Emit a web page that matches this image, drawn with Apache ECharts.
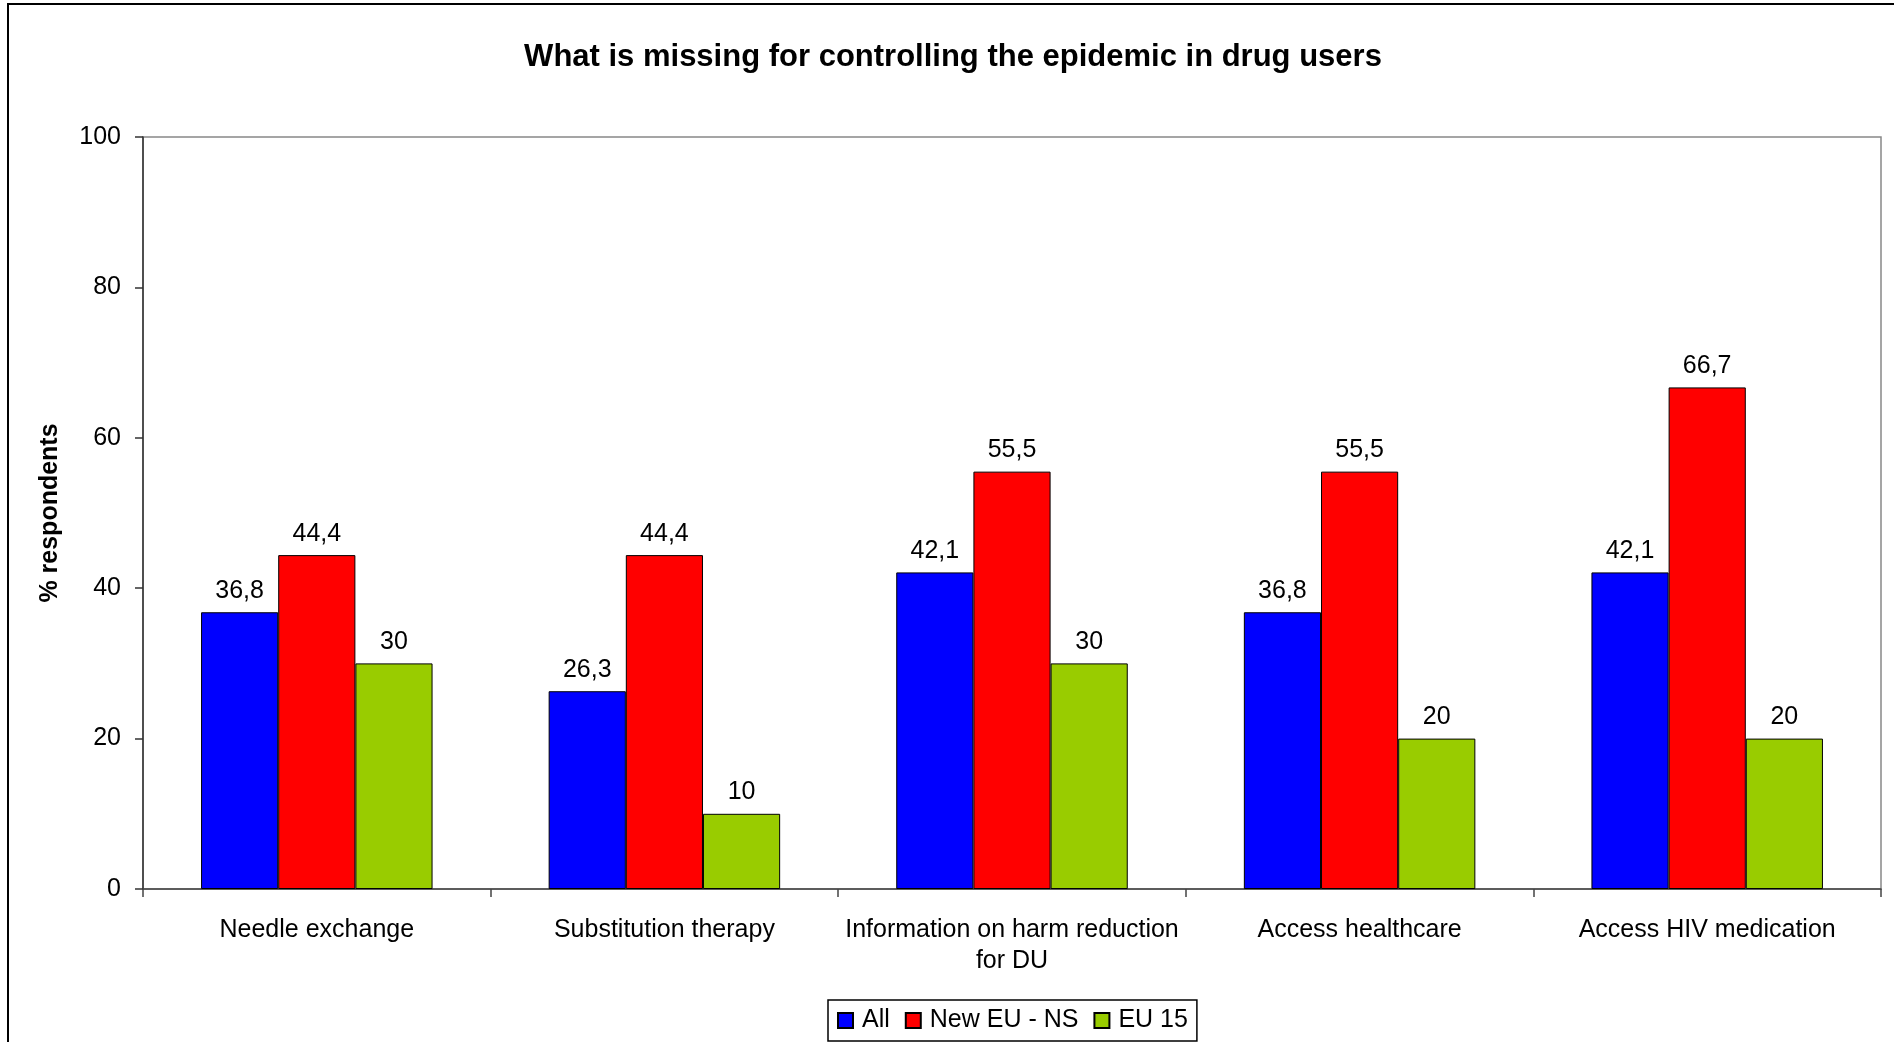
<!DOCTYPE html>
<html>
<head>
<meta charset="utf-8">
<script src="https://cdn.jsdelivr.net/npm/echarts@6/dist/echarts.min.js"></script>
<style>
  html, body { margin: 0; padding: 0; background: #fff; }
  #chart { width: 1894px; height: 1042px; }
</style>
</head>
<body>
<div id="chart"></div>
<script>
var categories = ['Needle exchange', 'Substitution therapy', 'Information on harm reduction\nfor DU', 'Access healthcare', 'Access HIV medication'];
var seriesNames = ['All', 'New EU - NS', 'EU 15'];
var allValues = [36.8, 26.3, 42.1, 36.8, 42.1];
var newEuValues = [44.4, 44.4, 55.5, 55.5, 66.7];
var eu15Values = [30, 10, 30, 20, 20];
var yTicks = [0, 20, 40, 60, 80, 100];

var FONT = '"Liberation Sans", Arial, sans-serif';
var colors = ['#0000FF', '#FF0000', '#99CC00'];
var dataSets = [allValues, newEuValues, eu15Values];

var chart = echarts.init(document.getElementById('chart'), null, { renderer: 'canvas' });

var series = seriesNames.map(function (name, i) {
  return {
    name: name,
    type: 'bar',
    data: dataSets[i],
    barGap: '0%',
    barCategoryGap: '33.4%',
    itemStyle: { color: colors[i], borderColor: '#000', borderWidth: 1 },
    label: {
      show: true,
      position: 'top',
      distance: 9,
      color: '#000',
      fontSize: 25,
      fontFamily: FONT,
      formatter: function (p) { return String(p.value).replace('.', ','); }
    },
    emphasis: { disabled: true }
  };
});

chart.setOption({
  animation: false,
  backgroundColor: '#fff',
  textStyle: { fontFamily: FONT },
  title: {
    text: 'What is missing for controlling the epidemic in drug users',
    left: 948,
    textAlign: 'center',
    top: 37,
    textStyle: { fontSize: 31, fontWeight: 'bold', color: '#000', fontFamily: FONT }
  },
  graphic: [{
    type: 'rect',
    z: -10,
    shape: { x: 8, y: 4, width: 2000, height: 2000 },
    style: { fill: 'none', stroke: '#000', lineWidth: 2 }
  }],
  legend: {
    data: seriesNames,
    left: 828,
    top: 1000,
    orient: 'horizontal',
    itemWidth: 15,
    itemHeight: 15,
    itemGap: 15,
    padding: [8, 9, 8, 9],
    borderColor: '#000',
    borderWidth: 1.5,
    backgroundColor: '#fff',
    icon: 'rect',
    textStyle: { fontSize: 25, color: '#000', fontFamily: FONT, padding: [0, 0, 0, 4] }
  },
  grid: {
    left: 143,
    right: 13,
    top: 137,
    bottom: 153,
    show: true,
    borderColor: '#888',
    borderWidth: 1.5,
    backgroundColor: 'transparent'
  },
  xAxis: {
    type: 'category',
    data: categories,
    axisLine: { lineStyle: { color: '#444', width: 1.5 } },
    axisTick: { show: true, length: 8, lineStyle: { color: '#444', width: 1.5 } },
    axisLabel: { color: '#000', fontSize: 25, fontFamily: FONT, margin: 26, lineHeight: 31, interval: 0 },
    splitLine: { show: false }
  },
  yAxis: {
    type: 'value',
    min: yTicks[0],
    max: yTicks[yTicks.length - 1],
    interval: yTicks[1] - yTicks[0],
    name: '% respondents',
    nameLocation: 'middle',
    nameGap: 80,
    nameTextStyle: { fontSize: 25, fontWeight: 'bold', color: '#000', fontFamily: FONT },
    axisLine: { show: true, lineStyle: { color: '#333', width: 1.5 } },
    axisTick: { show: true, length: 8, lineStyle: { color: '#333', width: 1.5 } },
    axisLabel: { color: '#000', fontSize: 25, fontFamily: FONT, margin: 22 },
    splitLine: { show: false }
  },
  series: series
});
</script>
</body>
</html>
